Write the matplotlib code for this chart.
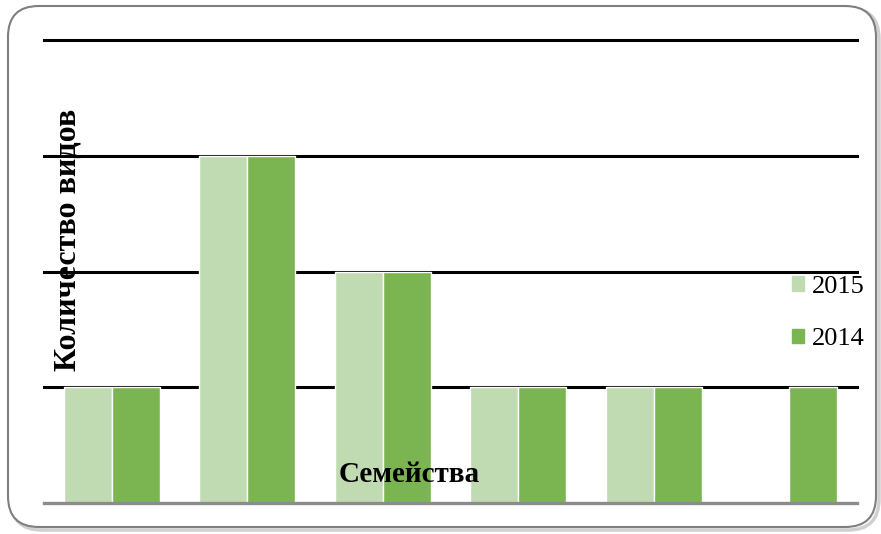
import matplotlib.pyplot as plt
import numpy as np
from matplotlib.patches import FancyBboxPatch, Patch

families = ["1", "2", "3", "4", "5", "6"]
counts_2015 = [1, 3, 2, 1, 1, 0]
counts_2014 = [1, 3, 2, 1, 1, 1]
grid_levels = [1, 2, 3, 4]

LIGHT = "#c0dbb2"
DARK = "#7ab551"

plt.rcParams["font.family"] = ["Liberation Serif", "DejaVu Serif"]

fig = plt.figure(figsize=(8.81, 5.34), dpi=100)

# rounded frame around the whole chart
shadow = FancyBboxPatch((11 / 881, 4 / 534), 868 / 881, 522 / 534,
                        boxstyle="round,pad=0,rounding_size=0.035",
                        transform=fig.transFigure, fc="none", ec="#d0d0d0", lw=2.5,
                        mutation_aspect=881 / 534, zorder=-2)
frame = FancyBboxPatch((8 / 881, 7 / 534), 868 / 881, 521 / 534,
                       boxstyle="round,pad=0,rounding_size=0.035",
                       transform=fig.transFigure, fc="white", ec="#7f7f7f", lw=1.5,
                       mutation_aspect=881 / 534, zorder=-1)
fig.patches.extend([shadow, frame])

ax = fig.add_axes([44 / 881, 31 / 534, 813 / 881, 463 / 534])
ax.set_facecolor("none")
x = np.arange(len(families))
w = 0.355
ax.bar(x - w / 2, counts_2015, w, color=LIGHT, edgecolor="white", lw=1, label="2015", zorder=3)
ax.bar(x + w / 2, counts_2014, w, color=DARK, edgecolor="white", lw=1, label="2014", zorder=3)

for lvl in grid_levels:
    ax.axhline(lvl, color="black", lw=2.2, zorder=1, clip_on=False)
ax.axhline(0, color="#8c8c8c", lw=2.4, zorder=4, clip_on=False)

ax.set_xlim(-0.5, len(families) - 0.5)
ax.set_ylim(0, 4)
ax.set_xticks([])
ax.set_yticks([])
for s in ax.spines.values():
    s.set_visible(False)

fig.text(68 / 881, 1 - 240 / 534, "Количество видов", rotation=90, fontsize=23,
         fontweight="bold", ha="center", va="center", zorder=5)
fig.text(409 / 881, 1 - 475 / 534, "Семейства", fontsize=21, fontweight="bold",
         ha="center", va="center", zorder=5)

handles = [Patch(color=LIGHT, label="2015"), Patch(color=DARK, label="2014")]
leg = fig.legend(handles=handles, loc="center left", bbox_to_anchor=(779 / 881, 1 - 313 / 534),
                 frameon=False, fontsize=19, handlelength=0.45, handleheight=0.45,
                 handletextpad=0.3, labelspacing=1.15, borderpad=0)

fig.savefig("out.png", dpi=100)
